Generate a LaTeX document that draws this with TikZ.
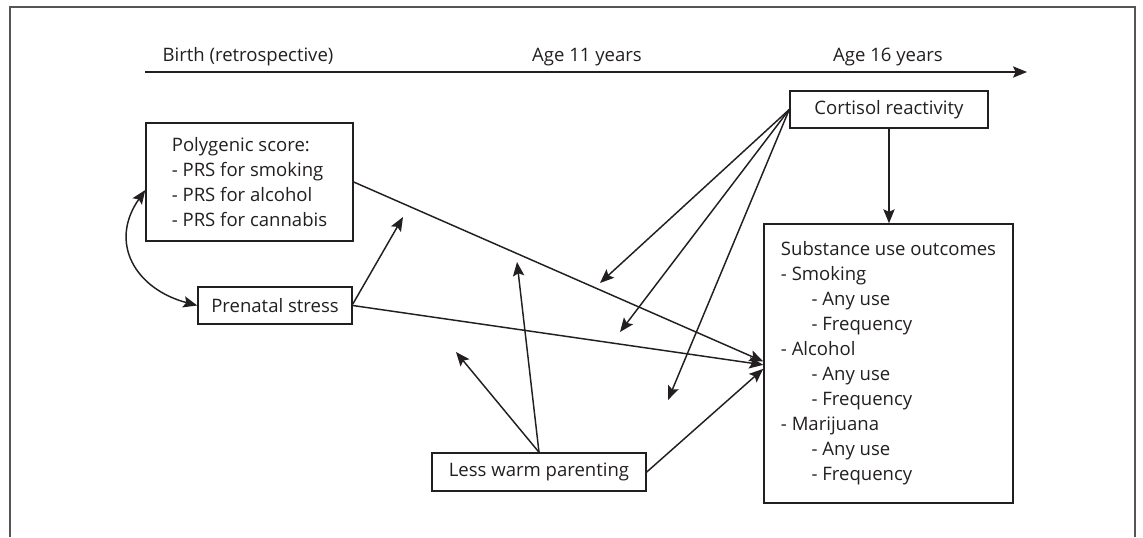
\documentclass[tikz,border=0pt]{standalone}
\usepackage{fontspec}
\setmainfont{Open Sans}
\usetikzlibrary{arrows.meta,calc}
\definecolor{ink}{HTML}{231F20}
\definecolor{framegray}{HTML}{555555}
\begin{document}
\begin{tikzpicture}[x=0.75pt,y=-0.75pt,
  txt/.style={font=\fontsize{13.9}{18.75}\selectfont, text=ink},
  box/.style={txt, draw=ink, line width=1.1pt, inner sep=0pt, align=left},
  arr/.style={draw=ink, line width=1.1pt, -{Stealth[length=10.5pt,width=8.5pt,inset=2pt]}},
  darr/.style={draw=ink, line width=1.1pt, {Stealth[length=10.5pt,width=8.5pt,inset=2pt]}-{Stealth[length=10.5pt,width=8.5pt,inset=2pt]}},
  frame/.style={draw=framegray, line width=1.5pt}]
\useasboundingbox (0,0) rectangle (1143,537);
\draw[frame] (10,537) -- (10,7) -- (1135,7) -- (1135,537);
% timeline
\coordinate (tl0) at (145,72);
\coordinate (tl1) at (1027,72);
\draw[arr] (tl0) -- (tl1);
\node[txt, anchor=base] (t1) at (248,61) {Birth (retrospective)};
\node[txt, anchor=base] (t2) at (587,61) {Age 11 years};
\node[txt, anchor=base] (t3) at (888,61) {Age 16 years};
% boxes
\node[box, minimum width=155.25pt, minimum height=88.5pt] (poly) at (249.5,182)
  {Polygenic score:\\- PRS for smoking\\- PRS for alcohol\\- PRS for cannabis};
\node[box, minimum width=115.5pt, minimum height=27.75pt] (pren) at (275,305.5) {Prenatal stress};
\node[box, minimum width=160.5pt, minimum height=28.5pt] (par) at (539,472) {Less warm parenting};
\node[box, minimum width=148.5pt, minimum height=27.75pt] (cort) at (889,109.5) {Cortisol reactivity};
\node[box, minimum width=186.75pt, minimum height=209.25pt] (subs) at (888.5,363.5)
  {Substance use outcomes\\- Smoking\\\hspace*{23pt}- Any use\\\hspace*{23pt}- Frequency\\- Alcohol\\\hspace*{23pt}- Any use\\\hspace*{23pt}- Frequency\\- Marijuana\\\hspace*{23pt}- Any use\\\hspace*{23pt}- Frequency};
% moderation targets
\coordinate (m1) at (403,217);
\coordinate (m2) at (517,262);
\coordinate (m3) at (456,352);
\coordinate (c1) at (600,283);
\coordinate (c2) at (620,332);
\coordinate (c3) at (668,400);
% connectors
\draw[darr] (pren.west) to[out=165, in=235, looseness=1.3] ([yshift=-6pt]poly.west);
\draw[arr] (poly.east) -- ([yshift=1.5pt]subs.west);
\draw[arr] (pren.east) -- ([yshift=-1pt]subs.west);
\draw[arr] ([yshift=1pt]pren.east) -- (m1);
\draw[arr] (par.north) -- (m2);
\draw[arr] (par.north) -- (m3);
\draw[arr] (par.east) -- ([yshift=-4pt]subs.west);
\draw[arr] (cort.west) -- (c1);
\draw[arr] (cort.west) -- (c2);
\draw[arr] (cort.west) -- (c3);
\draw[arr] (cort.south) -- (cort.south |- subs.north);
\end{tikzpicture}
\end{document}
